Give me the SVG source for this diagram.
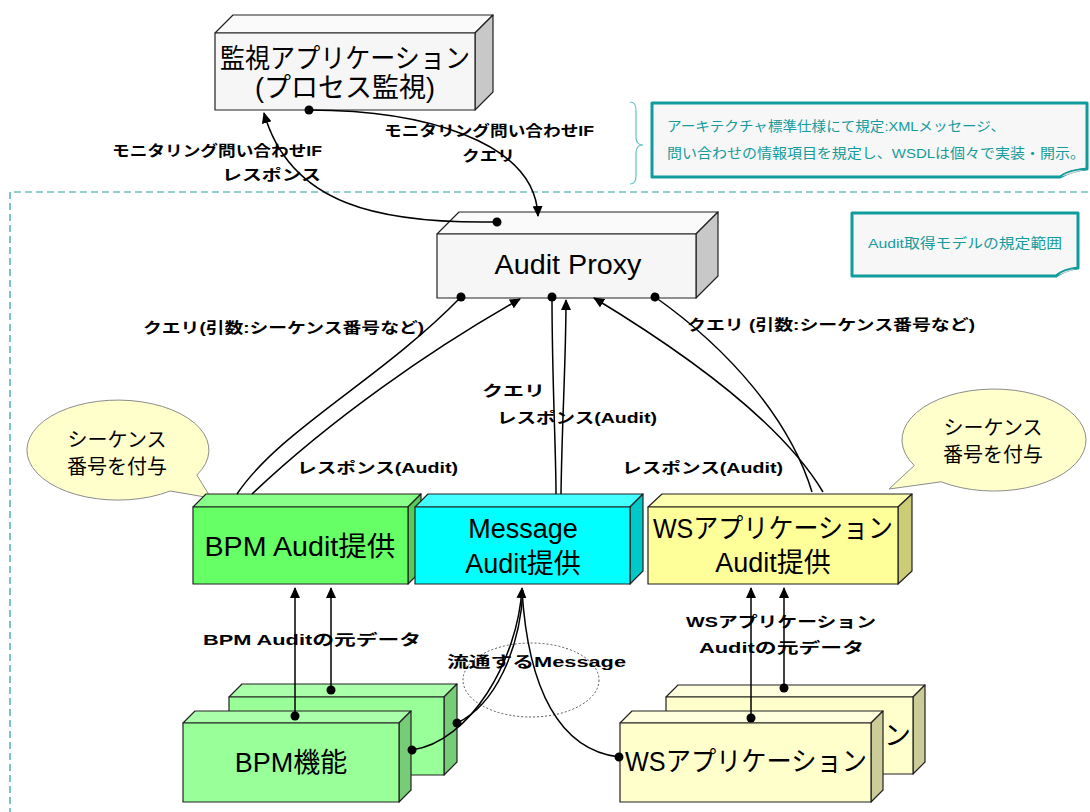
<svg xmlns="http://www.w3.org/2000/svg" width="1090" height="812" viewBox="0 0 1090 812">
<style>
text{font-family:"Liberation Sans","Noto Sans CJK JP",sans-serif;fill:#000}
.box{stroke:#222;stroke-width:1.2;stroke-linejoin:round}
.big{font-size:27px;text-anchor:middle}
.lbl{font-size:15px;font-weight:bold}
.note{font-size:13.5px;fill:#149b9b}
.bub{font-size:20px;text-anchor:middle}
.con{fill:none;stroke:#000;stroke-width:1.5}
.call{fill:#f7f7f7;stroke:#109c9c;stroke-width:3;stroke-linejoin:round}
</style>
<defs>
<marker id="arr" markerUnits="userSpaceOnUse" markerWidth="12" markerHeight="10" refX="10" refY="5" orient="auto"><path d="M0,0 L11,5 L0,10 Z" fill="#000"/></marker>
<marker id="dot" markerUnits="userSpaceOnUse" markerWidth="10" markerHeight="10" refX="5" refY="5" orient="auto"><circle cx="5" cy="5" r="4.5" fill="#000"/></marker>
</defs>
<rect width="1090" height="812" fill="#fff"/>

<!-- scope boundary -->
<path d="M10,815 V192 H1092" fill="none" stroke="#2a9d9d" stroke-width="1.2" stroke-dasharray="7,4"/>

<!-- brace -->
<path d="M630,102 Q636,102 636,110 V137 Q636,145 643,145 Q636,145 636,153 V176 Q636,184 630,184" fill="none" stroke="#66c2c2" stroke-width="1.2"/>

<!-- callout 1 -->
<g id="note-spec">
<path class="call" d="M652,103 H1087 V169 Q1072,170 1060,177 H652 Z"/>
<path d="M1060,177 Q1066,170 1087,169" fill="#d8d8d8" stroke="#109c9c" stroke-width="1.5"/>
<text class="note" x="667" y="131" textLength="338" lengthAdjust="spacingAndGlyphs">アーキテクチャ標準仕様にて規定:XMLメッセージ、</text>
<text class="note" x="667" y="158" textLength="418" lengthAdjust="spacingAndGlyphs">問い合わせの情報項目を規定し、WSDLは個々で実装・開示。</text>
</g>

<!-- callout 2 -->
<g id="note-scope">
<path class="call" d="M852,213 H1078 V268 Q1066,269 1056,276 H852 Z"/>
<path d="M1056,276 Q1062,269 1078,268" fill="#d8d8d8" stroke="#109c9c" stroke-width="1.5"/>
<text class="note" x="868" y="248" textLength="194" lengthAdjust="spacingAndGlyphs">Audit取得モデルの規定範囲</text>
</g>

<!-- monitoring app -->
<g id="monitor">
<polygon class="box" points="215,33 233,15 493,15 475,33" fill="#fafafa"/>
<polygon class="box" points="475,33 493,15 493,92 475,110" fill="#c8c8c8"/>
<rect class="box" x="215" y="33" width="260" height="77" fill="#f6f6f6"/>
<text class="big" x="345" y="68" font-size="26" textLength="250" lengthAdjust="spacingAndGlyphs">監視アプリケーション</text>
<text class="big" x="345" y="97" font-size="26">(プロセス監視)</text>
</g>

<!-- Audit Proxy -->
<g id="audit-proxy">
<polygon class="box" points="437,234 459,212 718,212 696,234" fill="#fafafa"/>
<polygon class="box" points="696,234 718,212 718,276 696,298" fill="#c8c8c8"/>
<rect class="box" x="437" y="234" width="259" height="64" fill="#f6f6f6"/>
<text class="big" x="568" y="274" textLength="147" lengthAdjust="spacingAndGlyphs">Audit Proxy</text>
</g>

<!-- bubbles -->
<g id="bubble-left">
<path d="M196.8,475 A91,50 0 1,0 170.2,491 L211,498 Z" fill="#ffffcc" stroke="#8c8c8c" stroke-width="1"/>
<text class="bub" x="117" y="447">シーケンス</text>
<text class="bub" x="117" y="474">番号を付与</text>
</g>
<g id="bubble-right">
<path d="M941.2,481.8 A92,51 0 1,0 914.3,465.5 L889,489 Z" fill="#ffffcc" stroke="#8c8c8c" stroke-width="1"/>
<text class="bub" x="993" y="435">シーケンス</text>
<text class="bub" x="993" y="462">番号を付与</text>
</g>

<!-- BPM Audit -->
<g id="bpm-audit">
<polygon class="box" points="193,507 206,494 421,494 408,507" fill="#88ff88"/>
<polygon class="box" points="408,507 421,494 421,571 408,584" fill="#55cc55"/>
<rect class="box" x="193" y="507" width="215" height="77" fill="#66ff66"/>
<text class="big" x="300" y="556" font-size="28" textLength="191" lengthAdjust="spacingAndGlyphs">BPM Audit提供</text>
</g>

<!-- Message Audit -->
<g id="msg-audit">
<polygon class="box" points="415,507 428,494 643,494 630,507" fill="#44ffff"/>
<polygon class="box" points="630,507 643,494 643,571 630,584" fill="#00c8c8"/>
<rect class="box" x="415" y="507" width="215" height="77" fill="#00ffff"/>
<text class="big" x="523" y="538">Message</text>
<text class="big" x="523" y="573">Audit提供</text>
</g>

<!-- WS Audit -->
<g id="ws-audit">
<polygon class="box" points="648,507 662,494 912,494 898,507" fill="#ffffb0"/>
<polygon class="box" points="898,507 912,494 912,571 898,584" fill="#cccc77"/>
<rect class="box" x="648" y="507" width="250" height="77" fill="#ffff99"/>
<text class="big" x="773" y="538" textLength="240" lengthAdjust="spacingAndGlyphs">WSアプリケーション</text>
<text class="big" x="773" y="572">Audit提供</text>
</g>

<!-- BPM function (back) -->
<g id="bpm-func-back">
<polygon class="box" points="229,697 242,684 457,684 444,697" fill="#aaffaa"/>
<polygon class="box" points="444,697 457,684 457,762 444,775" fill="#77cc77"/>
<rect class="box" x="229" y="697" width="215" height="78" fill="#99ff99"/>
</g>
<!-- BPM function (front) -->
<g id="bpm-func">
<polygon class="box" points="183,723 195,711 411,711 399,723" fill="#aaffaa"/>
<polygon class="box" points="399,723 411,711 411,790 399,802" fill="#77cc77"/>
<rect class="box" x="183" y="723" width="216" height="79" fill="#99ff99"/>
<text class="big" x="291" y="772" font-size="28">BPM機能</text>
</g>

<!-- WS app (back) -->
<g id="ws-app-back">
<polygon class="box" points="666,697 678,685 925,685 913,697" fill="#ffffdd"/>
<polygon class="box" points="913,697 925,685 925,762 913,774" fill="#cccc99"/>
<rect class="box" x="666" y="697" width="247" height="77" fill="#ffffcc"/>
<text x="884" y="745" font-size="27">ン</text>
</g>
<!-- WS app (front) -->
<g id="ws-app">
<polygon class="box" points="620,723 632,711 883,711 871,723" fill="#ffffdd"/>
<polygon class="box" points="871,723 883,711 883,790 871,802" fill="#cccc99"/>
<rect class="box" x="620" y="723" width="251" height="79" fill="#ffffcc"/>
<text x="625" y="771" font-size="27" textLength="242" lengthAdjust="spacingAndGlyphs">WSアプリケーション</text>
</g>

<!-- dotted ellipse -->
<ellipse cx="531" cy="680" rx="68" ry="37" fill="none" stroke="#555" stroke-width="1" stroke-dasharray="2,2"/>

<!-- connectors -->
<g id="connectors">
<path class="con" d="M309,110 C420,110 535,140 538,216" marker-start="url(#dot)" marker-end="url(#arr)"/>
<path class="con" d="M497,222 C380,224 290,205 264,113" marker-start="url(#dot)" marker-end="url(#arr)"/>
<path class="con" d="M461,297 C380,380 280,430 237,494" marker-start="url(#dot)"/>
<path class="con" d="M252,494 C330,420 430,350 520,299" marker-end="url(#arr)"/>
<path class="con" d="M552,297 C552,380 556,450 556,494" marker-start="url(#dot)"/>
<path class="con" d="M561,494 C562,420 566,360 566,300" marker-end="url(#arr)"/>
<path class="con" d="M655,297 C730,350 790,420 812,492" marker-start="url(#dot)"/>
<path class="con" d="M823,492 C780,420 680,350 594,298" marker-end="url(#arr)"/>
<path class="con" d="M295,716 V588" marker-start="url(#dot)" marker-end="url(#arr)"/>
<path class="con" d="M331,690 V588" marker-start="url(#dot)" marker-end="url(#arr)"/>
<path class="con" d="M751,718 V588" marker-start="url(#dot)" marker-end="url(#arr)"/>
<path class="con" d="M784,688 V588" marker-start="url(#dot)" marker-end="url(#arr)"/>
<path class="con" d="M412,750 C470,742 518,660 522,588" marker-start="url(#dot)" marker-end="url(#arr)"/>
<path class="con" d="M457,723 C495,705 520,650 523,590" marker-start="url(#dot)"/>
<path class="con" d="M619,757 C560,750 528,690 522,590" marker-start="url(#dot)"/>
</g>

<!-- labels -->
<g id="labels">
<text class="lbl" x="112" y="156" textLength="210" lengthAdjust="spacingAndGlyphs">モニタリング問い合わせIF</text>
<text class="lbl" x="222" y="180" textLength="99" lengthAdjust="spacingAndGlyphs">レスポンス</text>
<text class="lbl" x="384" y="136" textLength="210" lengthAdjust="spacingAndGlyphs">モニタリング問い合わせIF</text>
<text class="lbl" x="462" y="161" textLength="53" lengthAdjust="spacingAndGlyphs">クエリ</text>
<text class="lbl" x="143" y="333" textLength="281" lengthAdjust="spacingAndGlyphs">クエリ(引数:シーケンス番号など)</text>
<text class="lbl" x="687" y="330" textLength="288" lengthAdjust="spacingAndGlyphs">クエリ (引数:シーケンス番号など)</text>
<text class="lbl" x="482" y="396" textLength="63" lengthAdjust="spacingAndGlyphs">クエリ</text>
<text class="lbl" x="497" y="423" textLength="160" lengthAdjust="spacingAndGlyphs">レスポンス(Audit)</text>
<text class="lbl" x="297" y="473" textLength="161" lengthAdjust="spacingAndGlyphs">レスポンス(Audit)</text>
<text class="lbl" x="622" y="473" textLength="161" lengthAdjust="spacingAndGlyphs">レスポンス(Audit)</text>
<text class="lbl" x="203" y="645" textLength="218" lengthAdjust="spacingAndGlyphs">BPM Auditの元データ</text>
<text class="lbl" x="686" y="627" textLength="190" lengthAdjust="spacingAndGlyphs">WSアプリケーション</text>
<text class="lbl" x="699" y="653" textLength="165" lengthAdjust="spacingAndGlyphs">Auditの元データ</text>
<text class="lbl" x="447" y="667" font-size="18" textLength="179" lengthAdjust="spacingAndGlyphs">流通するMessage</text>
</g>
</svg>
